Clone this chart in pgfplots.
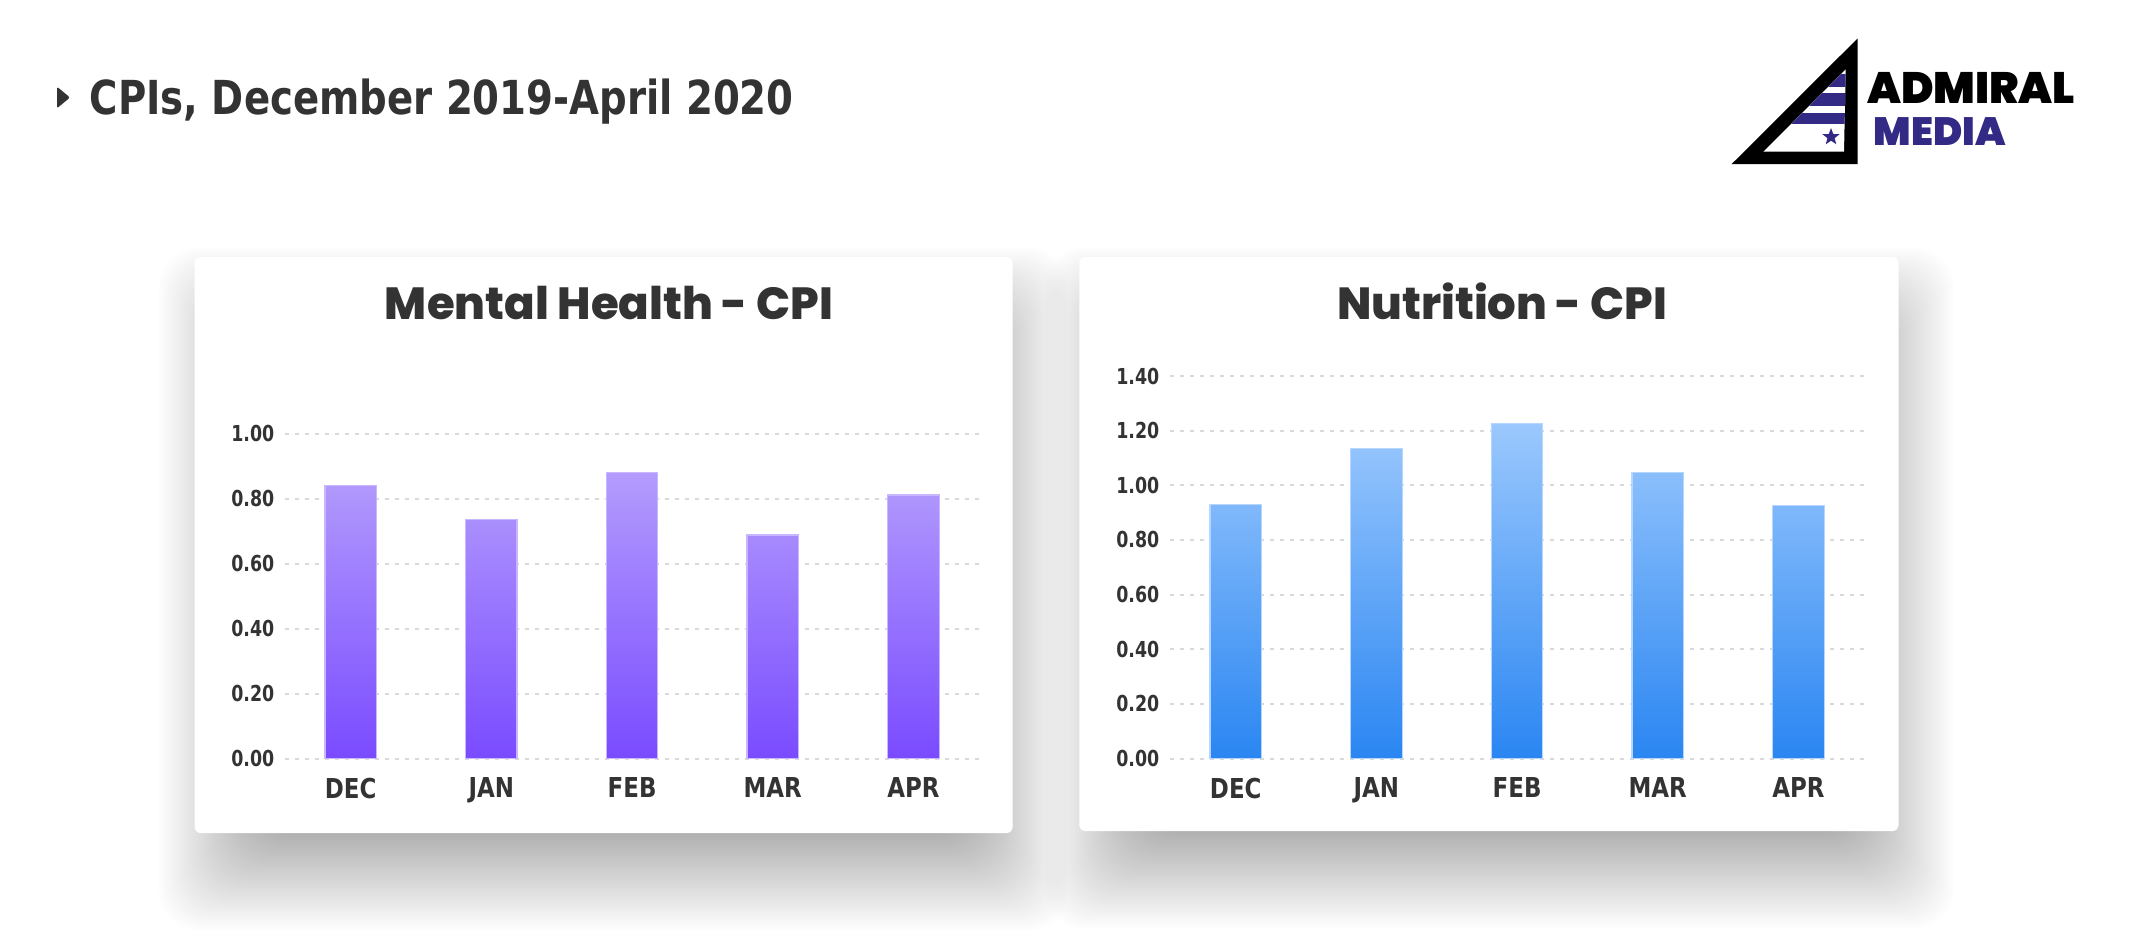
\documentclass[border=0pt]{standalone}
\usepackage{pgfplots}
\pgfplotsset{compat=1.18}
\usepackage{fontspec}
\setmainfont{DejaVu Sans}
\newfontfamily\cond{DejaVu Sans Condensed}[BoldFont={DejaVu Sans Condensed Bold}]
\newfontfamily\pop{Poppins}
\newfontfamily\popx{Poppins ExtraBold}
\newfontfamily\popb{Poppins Black}
\usetikzlibrary{shapes.geometric}

\definecolor{txt}{HTML}{333333}
\definecolor{gridc}{HTML}{D9D9D9}
\definecolor{lTop}{HTML}{B39CFD}
\definecolor{lBot}{HTML}{7A4BFF}
\definecolor{lEdge}{HTML}{C8B6FF}
\definecolor{rTop}{HTML}{9BC8FD}
\definecolor{rBot}{HTML}{2A86F2}
\definecolor{rEdge}{HTML}{B5D6FE}
\definecolor{admPurple}{HTML}{332A86}

\pgfplotsset{cpi/.style={
  scale only axis, width=346.75pt,
  xmin=-0.465, xmax=4.465, ymin=0,
  axis line style={draw=none}, major tick length=0pt,
  ymajorgrids, grid style={gridc, line width=1pt, dash pattern=on 2pt off 3pt},
  xtick={0,1,2,3,4},
  xticklabels={\scalebox{0.93}[1]{DEC},\scalebox{0.93}[1]{JAN},\scalebox{0.93}[1]{FEB},\scalebox{0.93}[1]{MAR},\scalebox{0.93}[1]{APR}},
  xticklabel style={font=\cond\bfseries\fontsize{13.7}{13.7}\selectfont, text=txt, anchor=north, inner sep=0pt, yshift=-9.5pt},
  yticklabel={\scalebox{0.88}[1]{\pgfmathprintnumber{\tick}}},
  yticklabel style={font=\cond\bfseries\fontsize{11}{11}\selectfont, text=txt, anchor=east, inner sep=0pt, xshift=-5.3pt,
     /pgf/number format/fixed, /pgf/number format/fixed zerofill, /pgf/number format/precision=2},
  /pgf/number format/assume math mode=true,
  ybar, bar width=25.7pt, clip=false,
}}

\begin{document}
\begin{tikzpicture}
% background
\fill[white] (0pt,0pt) rectangle (1067pt,-475pt);

% shadows (layered soft shadow)
\foreach \i in {0,...,39}{
  \fill[black, opacity=0.0065, rounded corners=20pt] ({128.3pt-\i*1.25pt},{-172.5pt+\i*1.25pt}) rectangle ({485.3pt+\i*1.25pt},{-416.5pt-\i*1.25pt});
  \fill[black, opacity=0.0065, rounded corners=20pt] ({570.65pt-\i*1.25pt},{-172.5pt+\i*1.25pt}) rectangle ({928.3pt+\i*1.25pt},{-415.5pt-\i*1.25pt});
}
% cards
\fill[white, rounded corners=3pt] (97.3pt,-128.5pt) rectangle (506.3pt,-416.5pt);
\fill[white, rounded corners=3pt] (539.65pt,-128.5pt) rectangle (949.3pt,-415.5pt);

% left chart
\begin{axis}[cpi, at={(142.65pt,-379.25pt)}, anchor=south west, height=162.5pt, ymax=1,
  ytick={0,0.2,0.4,0.6,0.8,1}]
\addplot[top color=lTop, bottom color=lBot, draw=lEdge, line width=0.6pt]
  coordinates {(0,0.840) (1,0.735) (2,0.881) (3,0.688) (4,0.811)};
\end{axis}

% right chart
\begin{axis}[cpi, at={(585.15pt,-379.25pt)}, anchor=south west, height=191.25pt, ymax=1.4,
  ytick={0,0.2,0.4,0.6,0.8,1,1.2,1.4}]
\addplot[top color=rTop, bottom color=rBot, draw=rEdge, line width=0.6pt]
  coordinates {(0,0.931) (1,1.135) (2,1.225) (3,1.047) (4,0.927)};
\end{axis}

% card titles
\node[anchor=base, inner sep=0pt, text=txt] at (304.5pt,-159.75pt) {\resizebox{224pt}{!}{\popx Mental Health - CPI}};
\node[anchor=base, inner sep=0pt, text=txt] at (751pt,-159.75pt) {\resizebox{165pt}{!}{\popx Nutrition - CPI}};

% main title
\fill[txt, rounded corners=1pt] (28.5pt,-43.35pt) -- (35pt,-48.75pt) -- (28.5pt,-54.15pt) -- cycle;
\node[anchor=base west, inner sep=0pt, text=txt] at (44.7pt,-57pt) {\resizebox{352pt}{17.8pt}{\cond\bfseries CPIs, December 2019-April 2020}};

% logo
\fill[black] (865.85pt,-82pt) -- (928.85pt,-19.15pt) -- (928.85pt,-82pt) -- cycle;
\fill[white] (881.65pt,-75.85pt) -- (922.85pt,-34.65pt) -- (922pt,-75.85pt) -- cycle;
\begin{scope}
  \clip (881.65pt,-75.85pt) -- (922.85pt,-34.65pt) -- (922pt,-75.85pt) -- cycle;
  \fill[admPurple] (875pt,-37.15pt) rectangle (925pt,-43.35pt);
  \fill[admPurple] (875pt,-46.35pt) rectangle (925pt,-53pt);
  \fill[admPurple] (875pt,-56.35pt) rectangle (925pt,-62pt);
\end{scope}
\node[star, star points=5, star point ratio=2.4, fill=admPurple, minimum size=9pt, inner sep=0pt] at (915.5pt,-68.5pt) {};
\node[anchor=base west, inner sep=0pt, text=black] at (933.35pt,-51.65pt) {\resizebox{104pt}{!}{\popb ADMIRAL}};
\node[anchor=base west, inner sep=0pt, text=admPurple] at (936.65pt,-72.5pt) {\resizebox{66pt}{!}{\popb MEDIA}};
\end{tikzpicture}
\end{document}
